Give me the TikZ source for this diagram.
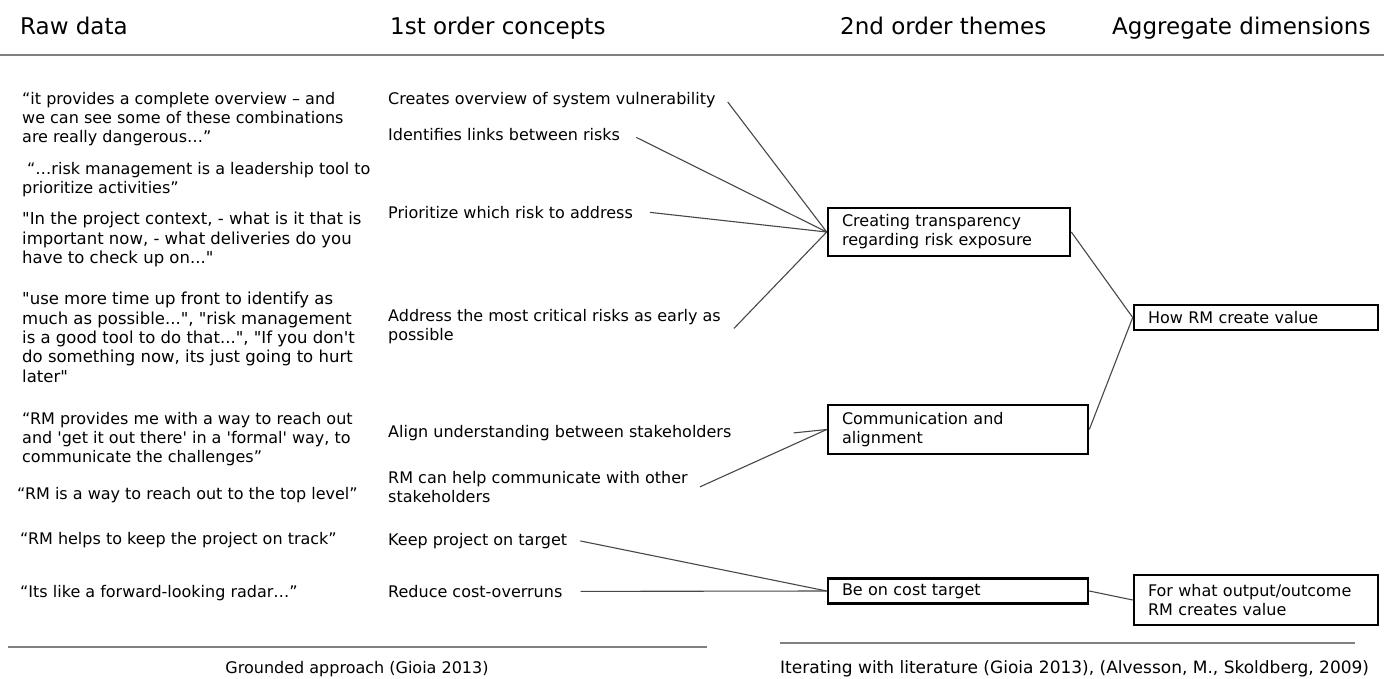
\documentclass[tikz,border=0pt]{standalone}
\usepackage{fontspec}
\setmainfont{DejaVu Sans}[Ligatures=TeXOff]
\begin{document}
\begin{tikzpicture}[x=1pt,y=-1pt,
  hdr/.style={anchor=base west, inner sep=0pt, font=\fontsize{23}{28}\selectfont},
  txt/.style={anchor=north west, inner sep=0pt, align=left, font=\fontsize{16}{19}\selectfont},
  txtwide/.style={txt, font=\fontsize{16.5}{19.4}\selectfont},
  box/.style={draw=black, line width=2.6pt, inner xsep=14pt, inner ysep=2pt, align=left,
              font=\fontsize{16}{19}\selectfont},
  link/.style={draw=black!72, line width=1.1pt},
  rulegray/.style={draw=black!50, line width=2pt},
  caption/.style={inner sep=0pt, font=\fontsize{16}{19}\selectfont}]
\useasboundingbox (0,0) rectangle (1384,679);

% column headers
\node[hdr] (h1) at (20,35) {Raw data};
\node[hdr] (h2) at (390,35) {1st order concepts};
\node[hdr] (h3) at (840,35) {2nd order themes};
\node[hdr] (h4) at (1112,35) {Aggregate dimensions};
\coordinate (topL) at (0,55);
\coordinate (topR) at (1384,55);
\draw[rulegray] (topL) -- (topR);

% raw data quotes
\node[txt] (r1) at (22,92) {“it provides a complete overview – and\\we can see some of these combinations\\are really dangerous…”};
\node[txt] (r2) at (22,162) {\hspace*{5pt}“…risk management is a leadership tool to\\prioritize activities”};
\node[txtwide] (r3) at (22,212) {"In the project context, - what is it that is\\important now, - what deliveries do you\\have to check up on..."};
\node[txtwide] (r4) at (22,292) {"use more time up front to identify as\\much as possible...", "risk management\\is a good tool to do that...", "If you don't\\do something now, its just going to hurt\\later"};
\node[txt] (r5) at (22,412) {“RM provides me with a way to reach out\\and 'get it out there' in a 'formal' way, to\\communicate the challenges”};
\node[txt] (r6) at (17,487) {“RM is a way to reach out to the top level”};
\node[txt] (r7) at (20,532) {“RM helps to keep the project on track”};
\node[txt] (r8) at (20,585) {“Its like a forward-looking radar…”};

% first order concepts
\node[txt] (c1) at (388,92) {Creates overview of system vulnerability};
\node[txt] (c2) at (388,128) {Identifies links between risks};
\node[txt] (c3) at (388,206) {Prioritize which risk to address};
\node[txt] (c4) at (388,309) {Address the most critical risks as early as\\possible};
\node[txt] (c5) at (388,425) {Align understanding between stakeholders};
\node[txt] (c6) at (388,471) {RM can help communicate with other\\stakeholders};
\node[txt] (c7) at (388,533) {Keep project on target};
\node[txt] (c8) at (388,585) {Reduce cost-overruns};

% second order themes
\node[box, text width=214pt, minimum height=48pt] (t1) at (949,232)
  {Creating transparency\\regarding risk exposure};
\node[box, text width=232pt, minimum height=49pt] (t2) at (958,429.5)
  {Communication and\\alignment};
\node[box, text width=232pt, minimum height=25pt] (t3) at (958,591)
  {Be on cost target};

% aggregate dimensions
\node[box, text width=216pt, minimum height=25pt] (a1) at (1256,317.5)
  {How RM create value};
\node[box, text width=216pt, minimum height=50pt] (a2) at (1256,600)
  {For what output/outcome\\RM creates value};

% concepts to themes
\draw[link] ([xshift=12pt,yshift=-2pt]c1.east) -- (t1.west);
\draw[link] ([xshift=16pt,yshift=-3pt]c2.east) -- (t1.west);
\draw[link] ([xshift=17pt]c3.east) -- (t1.west);
\draw[link] ([xshift=13pt,yshift=-2pt]c4.east) -- (t1.west);
\draw[link] ([xshift=62pt]c5.east) -- (t2.west);
\draw[link] ([xshift=12pt]c6.east) -- (t2.west);
\draw[link] ([xshift=13pt]c7.east) -- (t3.west);
\draw[link] ([xshift=18pt]c8.east) -- (t3.west);

% themes to dimensions
\draw[link] (t1.east) -- (a1.west);
\draw[link] (t2.east) -- (a1.west);
\draw[link] (t3.east) -- (a2.west);

% bottom rules and captions
\coordinate (blL) at (8,647);
\coordinate (blR) at (707,647);
\coordinate (brL) at (780,643);
\coordinate (brR) at (1355,643);
\draw[rulegray] (blL) -- (blR);
\draw[rulegray] (brL) -- (brR);
\node[caption, anchor=base] (cap1) at (357,673) {Grounded approach (Gioia 2013)};
\node[caption, anchor=base west, font=\fontsize{17}{20}\selectfont] (cap2) at (780,673) {Iterating with literature (Gioia 2013), (Alvesson, M., Skoldberg, 2009)};
\end{tikzpicture}
\end{document}
